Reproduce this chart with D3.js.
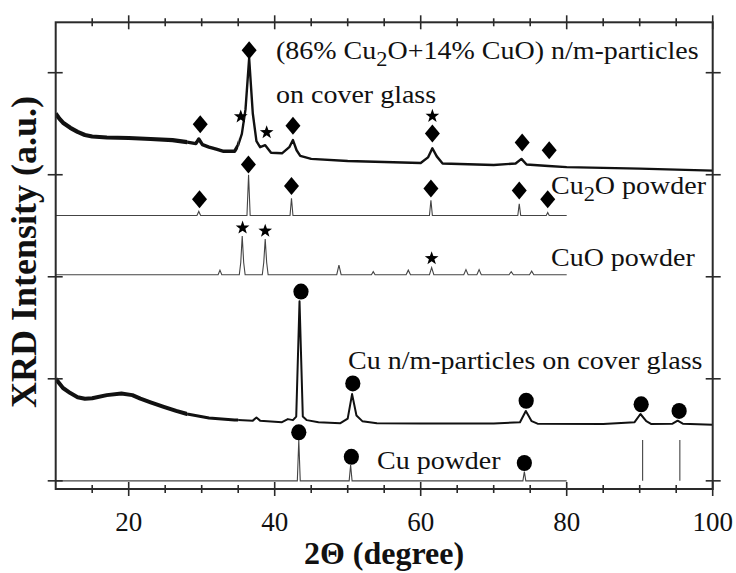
<!DOCTYPE html>
<html>
<head>
<meta charset="utf-8">
<script src="https://cdn.jsdelivr.net/npm/d3@7/dist/d3.min.js"></script>
<style>
  html, body { margin: 0; padding: 0; background: #fff; }
  svg { display: block; }
</style>
</head>
<body>
<svg id="chart" width="736" height="573"></svg>
<script>
// ---------------- data (2θ in degrees, intensity in a.u.) ----------------
const xTickValues = [20, 40, 60, 80, 100];
const xTickLabels = ["20", "40", "60", "80", "100"];
const xMinorTicks = [15, 25, 30, 35, 45, 50, 55, 65, 70, 75, 85, 90, 95];
const yTickValues = [0, 100, 200, 300, 400];

// (86% Cu2O + 14% CuO) n/m-particles on cover glass
const oxideFilm = [[10,360],[10.5,355],[11,351],[12,346],[13,342],[14,339],[15,337.5],[17,336.5],[20,336],[23,335],[26,334],[28,332],[29.2,330.5],[29.6,335],[30.1,329.5],[31,327],[32,325],[33,323],[34.5,323],[35,329],[35.5,340],[36,364],[36.5,414],[37,360],[37.5,333],[38,327],[38.7,329],[39.5,321.5],[41,321],[42,327],[42.5,334],[43,324],[43.5,318.5],[45,315.5],[50,313.5],[55,312.5],[60,311.5],[61,317],[61.6,326],[62.2,318],[63,311],[70,309.5],[73,311],[73.8,315.5],[74.5,310],[77.5,308.5],[80,307.5],[90,306],[100,304]];

// Cu2O powder
const cu2oPowder = [[10,260],[29.35,260],[29.6,264],[29.85,260],[36.2,260],[36.42,300],[36.64,260],[42.1,260],[42.3,277],[42.5,260],[61.2,260],[61.4,275],[61.6,260],[73.3,260],[73.5,271.5],[73.7,260],[77.2,260],[77.4,263],[77.6,260],[80,260]];

// CuO powder
const cuoPowder = [[10,202],[32.25,202],[32.5,206.5],[32.75,202],[35.15,202],[35.35,214],[35.55,240],[35.75,214],[35.95,202],[38.3,202],[38.5,214],[38.7,237],[38.9,214],[39.1,202],[48.5,202],[48.8,211.5],[49.1,202],[53.25,202],[53.5,205],[53.75,202],[58.0,202],[58.3,206.5],[58.6,202],[61.2,202],[61.5,209],[61.8,202],[65.9,202],[66.2,207],[66.5,202],[67.7,202],[68.0,207],[68.3,202],[72.1,202],[72.4,205],[72.7,202],[74.9,202],[75.2,205.5],[75.5,202],[80,202]];

// Cu n/m-particles on cover glass
const cuFilm = [[10,100],[11,91],[12,86],[13,82],[14,80.5],[15,81],[17,84],[19,85.5],[20.5,84],[21.6,80.5],[23,77],[24.8,72.5],[26.5,68.5],[28,65.5],[31,61.5],[34.5,59.7],[37,59],[37.5,62],[38,59],[41,57.5],[41.8,60.5],[42.5,59.5],[42.95,63],[43.4,176],[43.85,63],[44.4,59.5],[46,57.5],[49,56.5],[50,61],[50.6,85],[51.2,64],[52,58.5],[54,56.5],[60,56.3],[70,56.3],[73.6,57.5],[74.4,68.5],[75.2,58.5],[76,56],[85,55.6],[89.3,57.5],[90.1,65.5],[90.9,58.5],[91.6,55.6],[94.5,56],[95.2,59],[95.9,56],[100,55]];

// Cu powder
const cuPowder = [[10,0],[43.1,0],[43.3,40],[43.5,0],[50.2,0],[50.4,15.5],[50.6,0],[74.0,0],[74.2,9],[74.4,0],[80,0]];
const cuPowderLines = [[90.4,40],[95.5,40]];

// peak markers
const oxideDiamonds = [[36.5,422],[29.8,349.5],[42.5,348],[61.6,340.5],[73.9,331.5],[77.6,324]];
const oxideStars = [[35.35,357],[38.9,341.5],[61.6,357.5]];
const cu2oDiamonds = [[36.4,310],[29.7,276],[42.3,289],[61.4,286.5],[73.5,284.5],[77.4,276]];
const cuoStars = [[35.6,248],[38.7,245],[61.5,218]];
const cuFilmCircles = [[43.6,185.5],[50.7,95.5],[74.45,78.5],[90.2,75],[95.4,68.5]];
const cuPowderCircles = [[43.3,47.5],[50.5,23.5],[74.2,17.5]];

// ---------------- layout ----------------
const FONT = "'Liberation Serif', 'Times New Roman', Times, serif";
const svg = d3.select("#chart").attr("font-family", FONT);
const L = 55.7, R = 712.7, T = 22.3, B = 489;
const x = d3.scaleLinear().domain([10, 100]).range([L, R]);
const y = d3.scaleLinear().domain([-8, 449.4]).range([B, T]);
const axisColor = "#2a2a2a";

const line = d3.line().x(d => x(d[0])).y(d => y(d[1]));

// clip zones: the film scans are noisier (thicker trace) at low angle
const defs = svg.append("defs");
const zones = [[10, 28, "z1"], [28, 35, "z2"], [35, 100, "z3"]];
zones.forEach(([a, b, id]) => {
  defs.append("clipPath").attr("id", id).append("rect")
    .attr("x", x(a)).attr("y", 0).attr("width", x(b) - x(a)).attr("height", 573);
});

function filmCurve(data, widths) {
  zones.forEach(([a, b, id], i) => {
    svg.append("path").datum(data).attr("d", line).attr("clip-path", `url(#${id})`)
      .attr("fill", "none").attr("stroke", "#111").attr("stroke-width", widths[i])
      .attr("stroke-linejoin", "round");
  });
}
filmCurve(oxideFilm, [4.2, 3.4, 2.4]);
filmCurve(cuFilm, [4.0, 3.0, 2.0]);

[cu2oPowder, cuoPowder, cuPowder].forEach(s => {
  svg.append("path").datum(s).attr("d", line)
    .attr("fill", "none").attr("stroke", "#444").attr("stroke-width", 1.1);
});
svg.selectAll(".culine").data(cuPowderLines).enter().append("line")
  .attr("x1", d => x(d[0])).attr("x2", d => x(d[0]))
  .attr("y1", y(0)).attr("y2", d => y(d[1]))
  .attr("stroke", "#444").attr("stroke-width", 1.1);

// markers
const diamondPath = "M0,-9L7.5,0L0,9L-7.5,0Z";
function starPath(Ro, Ri) {
  let p = "";
  for (let i = 0; i < 10; i++) {
    const r = i % 2 ? Ri : Ro;
    const a = -Math.PI / 2 + i * Math.PI / 5;
    p += (i ? "L" : "M") + (r * Math.cos(a)).toFixed(2) + "," + (r * Math.sin(a)).toFixed(2);
  }
  return p + "Z";
}
const starD = starPath(7.2, 2.9);
function drawMarkers(data, kind) {
  const g = svg.append("g");
  data.forEach(d => {
    if (kind === "circle") {
      g.append("ellipse").attr("cx", x(d[0])).attr("cy", y(d[1])).attr("rx", 7.6).attr("ry", 8).attr("fill", "#000");
    } else {
      g.append("path").attr("d", kind === "diamond" ? diamondPath : starD)
        .attr("transform", `translate(${x(d[0])},${y(d[1])})`).attr("fill", "#000");
    }
  });
}
drawMarkers(oxideDiamonds, "diamond");
drawMarkers(oxideStars, "star");
drawMarkers(cu2oDiamonds, "diamond");
drawMarkers(cuoStars, "star");
drawMarkers(cuFilmCircles, "circle");
drawMarkers(cuPowderCircles, "circle");

// frame
svg.append("rect").attr("x", L).attr("y", T).attr("width", R - L).attr("height", B - T)
  .attr("fill", "none").attr("stroke", axisColor).attr("stroke-width", 2);

// x ticks (bottom & top), crossing the frame
const gx = svg.append("g").attr("stroke", axisColor).attr("stroke-width", 1.6);
xTickValues.forEach(v => {
  gx.append("line").attr("x1", x(v)).attr("x2", x(v)).attr("y1", B - 7).attr("y2", B + 7);
  gx.append("line").attr("x1", x(v)).attr("x2", x(v)).attr("y1", T - 7).attr("y2", T + 7);
});
xMinorTicks.forEach(v => {
  gx.append("line").attr("x1", x(v)).attr("x2", x(v)).attr("y1", B - 4).attr("y2", B + 4);
  gx.append("line").attr("x1", x(v)).attr("x2", x(v)).attr("y1", T - 4).attr("y2", T + 4);
});
// y ticks left & right
yTickValues.forEach(v => {
  gx.append("line").attr("x1", L - 8).attr("x2", L + 7).attr("y1", y(v)).attr("y2", y(v));
  gx.append("line").attr("x1", R - 7).attr("x2", R + 8).attr("y1", y(v)).attr("y2", y(v));
});

// x tick labels
svg.selectAll(".xl").data(xTickValues).enter().append("text")
  .attr("x", d => x(d)).attr("y", 530.5).attr("text-anchor", "middle")
  .attr("font-family", FONT).attr("font-size", 27).attr("fill", "#111")
  .text((d, i) => xTickLabels[i]);

// axis titles
svg.append("text").attr("x", 384).attr("y", 564).attr("text-anchor", "middle")
  .attr("font-family", FONT).attr("font-size", 32).attr("font-weight", "bold").attr("fill", "#111")
  .text("2Θ (degree)");
svg.append("text").attr("transform", "translate(36,252) rotate(-90)").attr("text-anchor", "middle")
  .attr("font-family", FONT).attr("font-size", 36).attr("font-weight", "bold").attr("fill", "#111")
  .text("XRD Intensity (a.u.)");

// annotations
function label(px, py, parts) {
  const t = svg.append("text").attr("transform", `translate(${px},${py}) scale(1.12,1)`)
    .attr("font-family", FONT).attr("font-size", 25).attr("fill", "#111");
  let shift = 0;
  parts.forEach(p => {
    const s = t.append("tspan");
    if (p.sub) {
      s.attr("dy", 7 - shift).attr("font-size", 20).text(p.sub);
      shift = 7;
    } else {
      s.attr("dy", -shift).text(p.t);
      shift = 0;
    }
  });
}
label(276, 59, [{t: "(86% Cu"}, {sub: "2"}, {t: "O+14% CuO) n/m-particles"}]);
label(276, 103, [{t: "on cover glass"}]);
label(551, 194, [{t: "Cu"}, {sub: "2"}, {t: "O powder"}]);
label(551, 265.5, [{t: "CuO powder"}]);
label(348, 369, [{t: "Cu n/m-particles on cover glass"}]);
label(377, 469, [{t: "Cu powder"}]);
</script>
</body>
</html>
